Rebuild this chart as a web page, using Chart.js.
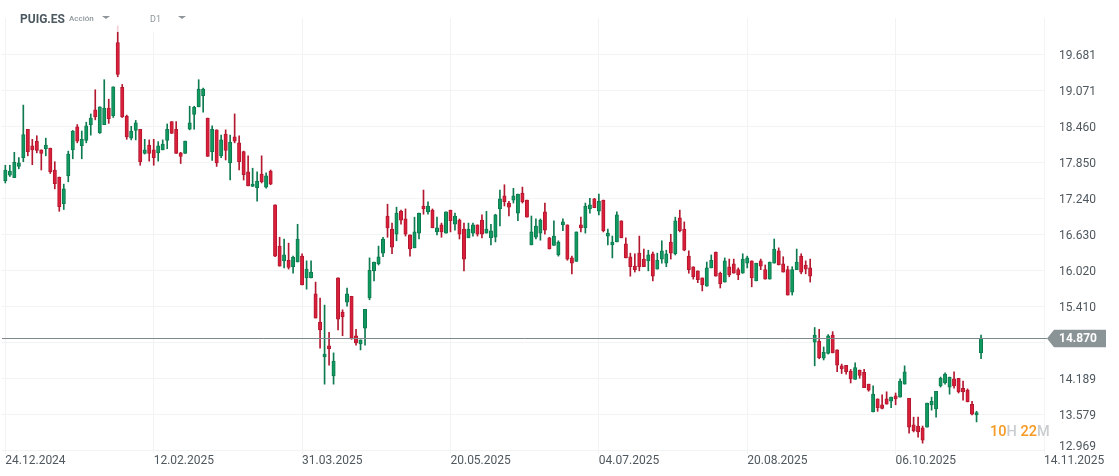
<!DOCTYPE html>
<html lang="es">
<head>
<meta charset="utf-8">
<title>PUIG.ES</title>
<script src="https://cdn.jsdelivr.net/npm/chart.js@4/dist/chart.umd.min.js"></script>
<style>
    html, body { margin: 0; padding: 0; background: #fff; overflow: hidden; }
    body { width: 1119px; height: 476px; position: relative; font-family: Roboto, sans-serif; }
    canvas { position: absolute; left: 0; top: 0; }
    .head { position: absolute; left: 8px; top: 0; width: 190px; height: 32px; background: rgba(255,255,255,0.8); }
    .head span { position: absolute; white-space: nowrap; }
    .symbol { left: 12px; top: 12px; font-size: 12px; line-height: 14px; font-weight: 700; color: #4b5860; }
    .type { left: 61px; top: 14px; font-size: 8px; line-height: 10px; font-weight: 500; color: #8d9599; }
    .frame { left: 142px; top: 14px; font-size: 9px; line-height: 11px; color: #8d9599; }
    .caret { width: 0; height: 0; border-left: 4px solid transparent; border-right: 4px solid transparent; border-top: 3px solid #8d9599; top: 16px; }
    .timer { position: absolute; left: 990px; top: 423px; font-size: 14.5px; line-height: 18px; font-weight: 500; color: #c9cdcf; white-space: nowrap; }
    .timer b { font-weight: 500; color: #f59a23; }
</style>
</head>
<body>
<canvas id="graf" width="1119" height="476"></canvas>
<div class="head">
    <span class="symbol">PUIG.ES</span>
    <span class="type">Acción</span>
    <span class="caret" style="left:94px"></span>
    <span class="frame">D1</span>
    <span class="caret" style="left:170px"></span>
</div>
<div class="timer"><b>10</b>H <b>22</b>M</div>

<script>
const opens = [
    17.54,17.63,17.59,17.78,17.93,18.41,18.13,18.21,18.06,18.08,18.09,17.72,17.60,17.15,17.62,18.06,18.45,18.13,18.22,18.49,18.74,18.35,18.49,18.77,18.64,
    19.88,19.12,18.63,18.26,18.39,18.41,18.00,18.14,18.06,18.01,18.06,18.22,18.54,18.41,18.01,18.00,18.41,18.66,18.79,18.98,18.60,18.03,18.40,17.96,18.33,
    17.84,18.28,18.18,18.03,17.69,17.44,17.42,17.65,17.43,17.70,17.13,16.43,16.18,16.19,16.08,16.16,16.26,15.89,15.89,15.62,15.14,14.55,14.74,14.23,15.89,
    15.31,15.48,15.58,14.91,14.77,15.04,15.55,16.01,16.13,16.31,16.94,16.72,16.63,17.02,16.89,16.62,16.40,16.65,17.11,17.01,17.04,16.67,16.79,16.65,17.04,
    16.80,16.87,16.72,16.57,16.65,16.79,16.87,16.65,16.57,16.58,17.06,17.28,17.16,17.21,16.99,17.33,17.21,16.45,16.58,16.65,17.01,16.57,16.44,16.28,16.79,
    16.79,16.23,16.17,16.79,16.74,17.06,17.23,17.02,17.21,16.60,16.45,16.50,16.86,16.47,16.25,16.09,16.31,16.21,16.18,16.30,16.04,16.21,16.14,16.50,16.30,
    16.91,16.72,16.26,16.08,16.01,15.89,15.75,16.06,16.33,15.97,15.82,16.08,16.13,16.03,15.97,16.14,16.18,15.84,16.18,16.03,15.87,16.14,16.35,16.13,16.03,15.65,16.03,16.26,16.11,16.06,
    14.80,14.82,14.53,14.61,14.92,14.67,14.40,14.41,14.31,14.17,14.33,14.29,14.09,13.62,13.84,13.74,13.84,13.80,13.89,13.87,14.09,13.85,13.40,13.38,13.35,13.36,13.74,13.67,14.06,14.11,14.04,14.18,14.19,14.02,13.99,13.75,13.57,14.62
];
const highs = [
    17.80,17.80,18.02,17.93,18.82,18.41,18.24,18.30,18.06,18.26,18.09,17.86,17.60,17.48,18.04,18.39,18.49,18.38,18.53,18.67,19.08,18.79,19.25,18.92,19.13,
    20.16,19.17,18.65,18.46,18.56,18.41,18.24,18.23,18.24,18.20,18.23,18.50,18.54,18.54,18.02,18.21,18.80,18.80,19.25,19.11,18.60,18.47,18.40,18.31,18.40,
    18.31,18.67,18.30,18.04,17.96,17.75,17.69,17.96,17.67,17.72,17.13,16.58,16.55,16.48,16.26,16.80,16.30,16.18,16.18,15.82,15.55,15.43,14.97,14.62,15.89,
    15.35,15.72,15.58,15.02,14.84,15.36,16.23,16.16,16.43,16.58,17.14,16.82,17.09,17.04,17.06,16.62,16.92,16.99,17.38,17.18,17.06,16.92,16.82,17.01,17.04,
    16.99,16.89,16.82,16.82,16.82,16.79,16.96,17.02,16.80,16.97,17.38,17.47,17.19,17.41,17.31,17.43,17.21,16.94,16.89,16.89,17.16,16.58,16.86,16.52,16.89,
    16.79,16.26,16.67,16.92,17.16,17.24,17.24,17.31,17.21,16.72,16.60,17.01,16.86,16.57,16.31,16.30,16.60,16.38,16.36,16.33,16.31,16.52,16.36,16.63,16.92,
    17.04,16.84,16.35,16.08,16.01,15.89,16.16,16.28,16.33,15.99,16.23,16.21,16.21,16.06,16.30,16.26,16.18,16.14,16.21,16.11,16.16,16.55,16.40,16.25,16.09,16.08,16.38,16.30,16.18,16.21,
    15.05,15.02,14.72,14.93,14.98,14.67,14.43,14.41,14.34,14.45,14.33,14.34,14.09,14.06,13.84,13.91,13.96,13.87,13.94,14.18,14.40,13.85,13.53,13.53,13.38,13.77,13.87,13.97,14.21,14.28,14.21,14.30,14.19,14.14,14.01,13.80,13.63,14.92
];
const lows = [
    17.50,17.61,17.59,17.74,17.86,17.96,17.81,18.01,17.72,17.96,17.66,17.40,17.02,17.05,17.52,17.91,18.18,17.91,18.18,18.31,18.57,18.34,18.49,18.51,18.61,
    19.30,18.61,18.24,18.23,18.23,17.80,17.99,17.87,17.80,17.87,18.06,18.08,18.34,18.00,17.83,18.00,18.40,18.41,18.79,18.70,17.95,17.88,17.78,17.93,17.89,
    17.55,18.18,17.72,17.55,17.45,17.44,17.19,17.50,17.41,17.47,16.25,16.09,16.06,16.04,15.97,16.16,15.77,15.70,15.89,15.21,14.70,14.09,14.41,14.09,15.01,
    14.91,15.41,14.85,14.75,14.67,14.75,15.52,15.84,16.11,16.25,16.58,16.30,16.52,16.80,16.60,16.26,16.40,16.55,16.97,16.97,16.74,16.62,16.58,16.65,16.67,
    16.70,16.55,16.01,16.57,16.60,16.60,16.57,16.65,16.45,16.50,16.77,17.11,16.94,17.16,16.86,17.16,16.92,16.45,16.55,16.53,16.63,16.38,16.44,16.26,16.69,
    16.19,15.96,16.17,16.67,16.65,16.99,17.08,16.96,16.67,16.45,16.23,16.50,16.57,16.23,15.92,15.99,16.01,16.08,16.01,15.84,16.04,16.14,16.08,16.21,16.28,
    16.67,16.35,15.97,15.87,15.81,15.67,15.75,16.06,15.92,15.72,15.82,15.91,15.97,15.86,15.97,16.06,15.74,15.84,16.03,15.87,15.87,16.14,16.11,15.99,15.60,15.60,16.03,15.96,15.96,15.82,
    14.40,14.52,14.50,14.60,14.62,14.30,14.27,14.26,14.11,14.17,14.19,14.03,13.97,13.62,13.63,13.67,13.75,13.69,13.74,13.87,14.09,13.26,13.28,13.19,13.09,13.36,13.65,13.53,14.04,14.09,13.92,14.02,13.94,13.82,13.79,13.57,13.45,14.52
];
const closes = [
    17.72,17.70,17.85,17.84,18.32,18.03,18.06,18.05,18.00,18.14,17.69,17.49,17.10,17.40,17.99,18.38,18.21,18.24,18.47,18.60,18.62,18.79,18.77,18.59,19.13,
    19.34,18.62,18.28,18.38,18.52,17.86,18.06,18.00,17.93,18.13,18.16,18.41,18.34,18.00,17.95,18.21,18.52,18.78,19.09,19.09,17.95,18.41,17.84,18.23,18.05,
    18.19,18.21,17.86,17.64,17.45,17.48,17.53,17.52,17.62,17.48,16.26,16.09,16.28,16.07,16.24,16.55,15.77,16.04,15.99,15.21,15.01,14.60,14.69,14.48,15.19,
    15.23,15.62,14.87,14.79,14.84,15.36,16.02,16.16,16.25,16.55,16.74,16.41,16.99,16.87,16.63,16.38,16.67,16.99,17.06,17.11,16.74,16.74,16.67,17.01,16.86,
    16.94,16.63,16.21,16.72,16.79,16.63,16.63,16.72,16.69,16.96,17.23,17.18,17.09,17.28,17.31,17.18,16.92,16.67,16.77,16.87,16.70,16.38,16.60,16.50,16.84,
    16.21,16.14,16.67,16.74,17.11,17.13,17.08,17.19,16.69,16.65,16.50,16.96,16.57,16.23,16.08,16.03,16.08,16.08,16.28,15.92,16.19,16.35,16.30,16.31,16.86,
    16.69,16.36,16.03,15.91,15.86,15.77,16.06,16.19,15.92,15.79,16.18,15.94,15.97,15.94,16.21,16.23,15.89,16.14,16.09,15.87,16.16,16.38,16.11,15.99,15.60,16.03,16.16,15.99,16.04,15.92,
    14.92,14.54,14.63,14.91,14.62,14.41,14.35,14.30,14.18,14.37,14.24,14.03,13.99,13.92,13.69,13.68,13.75,13.87,13.84,14.14,14.30,13.36,13.30,13.28,13.14,13.77,13.80,13.97,14.19,14.26,14.21,14.06,13.96,13.96,13.79,13.58,13.61,14.87
];
const dateLabels = ['24.12.2024', '12.02.2025', '31.03.2025', '20.05.2025', '04.07.2025', '20.08.2025', '06.10.2025', '14.11.2025'];
const dateStep = 33; // svíčky mezi popisky
const priceTicks = [19.681, 19.071, 18.460, 17.850, 17.240, 16.630, 16.020, 15.410, 14.800, 14.189, 13.579, 12.969];
const hiddenTick = 14.800; // schovaný pod štítkem
const bottomTick = 12.969; // v originále posunutý nahoru
const lastPrice = 14.87;

const green = '#109a60', greenDark = '#0d7a4f';
const red = '#db1f3a', redDark = '#b2182f';
const tickColor = '#4f585e';
const isUp = closes.map((c, i) => c >= opens[i]);

const cenovaCara = {
    id: 'cenovaCara',
    afterDatasetsDraw(chart) {
        const c = chart.ctx;
        const yScale = chart.scales.y;
        const y = Math.round(yScale.getPixelForValue(lastPrice)) + 0.5;
        c.save();
        c.strokeStyle = '#7f888c';
        c.lineWidth = 1;
        c.beginPath();
        c.moveTo(chart.chartArea.left, y);
        c.lineTo(1047, y);
        c.stroke();
        // štítek s poslední cenou
        c.fillStyle = '#8a9396';
        c.beginPath();
        c.moveTo(1047, y);
        c.lineTo(1054, y - 8.7);
        c.lineTo(1106, y - 8.7);
        c.lineTo(1106, y + 8.7);
        c.lineTo(1054, y + 8.7);
        c.closePath();
        c.fill();
        c.fillStyle = '#fff';
        c.font = '700 12px Roboto';
        c.textBaseline = 'middle';
        c.fillText(lastPrice.toFixed(3), 1059, y + 0.5);
        // spodní popisek
        c.fillStyle = tickColor;
        c.font = '12px Roboto';
        c.fillText(bottomTick.toFixed(3), 1059, yScale.getPixelForValue(bottomTick) - 3);
        c.restore();
    }
};

new Chart(document.getElementById('graf'), {
    type: 'bar',
    data: {
        datasets: [
            {
                // knoty
                data: opens.map((o, i) => ({x: i, y: [lows[i], highs[i]]})),
                backgroundColor: isUp.map(u => u ? greenDark : redDark),
                barThickness: 1,
                grouped: false,
                order: 2
            },
            {
                // těla
                data: opens.map((o, i) => ({x: i, y: [o, closes[i]]})),
                backgroundColor: isUp.map(u => u ? green : red),
                borderColor: isUp.map(u => u ? greenDark : redDark),
                borderWidth: 1,
                borderSkipped: false,
                barThickness: 3.4,
                grouped: false,
                order: 1
            }
        ]
    },
    options: {
        responsive: false,
        animation: false,
        events: [],
        layout: {padding: {left: 2, top: 18, right: 0, bottom: 0}},
        plugins: {legend: {display: false}, tooltip: {enabled: false}},
        scales: {
            x: {
                type: 'linear',
                offset: false,
                min: -0.74,
                max: (dateLabels.length - 1) * dateStep,
                afterBuildTicks: s => { s.ticks = dateLabels.map((d, i) => ({value: i * dateStep})); },
                afterFit: s => { s.height = 24; s.paddingLeft = 0; s.paddingRight = 0; },
                border: {display: false},
                grid: {color: '#f2f3f3', tickColor: '#f2f3f3', tickLength: 2, offset: false},
                ticks: {
                    autoSkip: false,
                    maxRotation: 0,
                    align: 'start',
                    padding: 0,
                    color: tickColor,
                    font: {family: 'Roboto', size: 12},
                    callback: v => dateLabels[v / dateStep]
                }
            },
            y: {
                position: 'right',
                min: 12.94,
                max: 20.296,
                afterBuildTicks: s => { s.ticks = priceTicks.map(v => ({value: v})); },
                afterFit: s => { s.width = 75; s.paddingTop = 0; s.paddingBottom = 0; },
                border: {display: false},
                grid: {color: '#f2f3f3', drawTicks: false},
                ticks: {
                    padding: 15,
                    labelOffset: 2,
                    color: tickColor,
                    font: {family: 'Roboto', size: 12},
                    callback: v => (v === hiddenTick || v === bottomTick) ? '' : v.toFixed(3)
                }
            }
        }
    },
    plugins: [cenovaCara]
});
</script>
</body>
</html>
